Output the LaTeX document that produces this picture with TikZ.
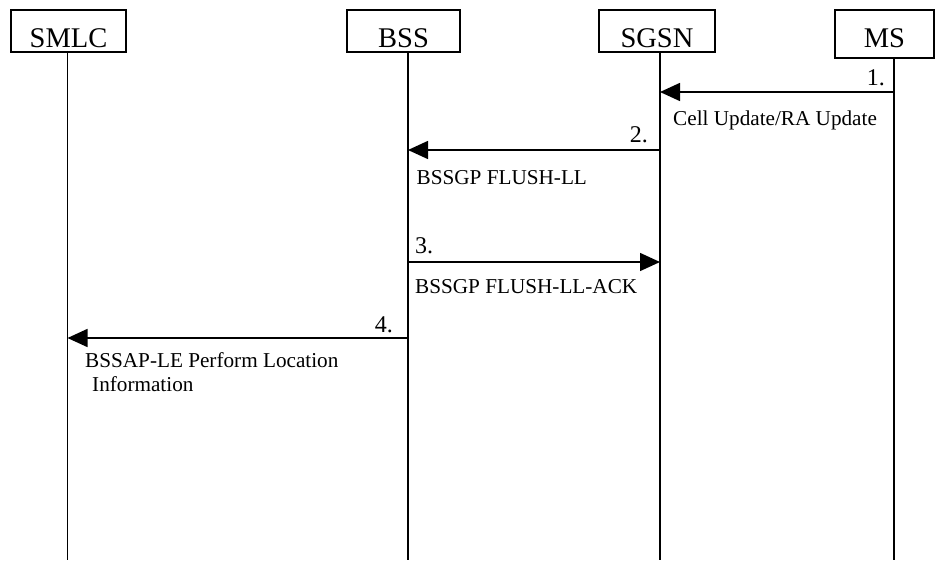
\documentclass[tikz,border=0pt]{standalone}
\usepackage{fontspec}
\setmainfont{Liberation Serif}
\usetikzlibrary{arrows.meta}
\tikzset{
  entity/.style={draw, line width=1.5pt, rectangle, inner sep=0pt, text depth=0pt,
    font=\fontsize{28.5}{32}\selectfont},
  life/.style={line width=1.5pt},
  msg/.style={line width=1.5pt, -{Triangle[length=20pt,width=18pt]}},
  num/.style={inner sep=0pt, font=\fontsize{24}{27}\selectfont},
  lbl/.style={inner sep=0pt, font=\fontsize{21.2}{25}\selectfont, anchor=base west},
}
\begin{document}
\begin{tikzpicture}[x=1pt,y=-1pt]
\useasboundingbox (0,0) rectangle (935,560);
% entity boxes
\node[entity, minimum width=115pt, minimum height=42pt, text height=32pt] (smlc) at (68.5,31) {SMLC};
\node[entity, minimum width=113pt, minimum height=42pt, text height=32pt] (bss) at (403.5,31) {BSS};
\node[entity, minimum width=116pt, minimum height=42pt, text height=32pt] (sgsn) at (657,31) {SGSN};
\node[entity, minimum width=99pt, minimum height=48pt, text height=26pt] (ms) at (884.5,34) {MS};
% lifeline ends
\coordinate (smlcT) at (67.5,52);  \coordinate (smlcB) at (67.5,560);
\coordinate (bssT) at (408,52);    \coordinate (bssB) at (408,560);
\coordinate (sgsnT) at (660,52);   \coordinate (sgsnB) at (660,560);
\coordinate (msT) at (894,58);     \coordinate (msB) at (894,560);
\draw[life] (smlcT) -- (smlcB);
\draw[life] (bssT) -- (bssB);
\draw[life] (sgsnT) -- (sgsnB);
\draw[life] (msT) -- (msB);
% message end points
\coordinate (m1s) at (894,92);  \coordinate (m1e) at (660,92);
\coordinate (m2s) at (660,150); \coordinate (m2e) at (408,150);
\coordinate (m3s) at (408,262); \coordinate (m3e) at (660,262);
\coordinate (m4s) at (408,338); \coordinate (m4e) at (67.5,338);
\draw[msg] (m1s) -- (m1e);
\draw[msg] (m2s) -- (m2e);
\draw[msg] (m3s) -- (m3e);
\draw[msg] (m4s) -- (m4e);
% labels
\node[num, anchor=base east] (n1) at (885,85) {1.};
\node[lbl] (t1) at (673,125) {Cell Update/RA Update};
\node[num, anchor=base east] (n2) at (648,142) {2.};
\node[lbl] (t2) at (416.5,184) {BSSGP FLUSH-LL};
\node[num, anchor=base west] (n3) at (415,253) {3.};
\node[lbl] (t3) at (415,293) {BSSGP FLUSH-LL-ACK};
\node[num, anchor=base east] (n4) at (393,332) {4.};
\node[lbl] (t4a) at (85,367) {BSSAP-LE Perform Location};
\node[lbl] (t4b) at (92,391) {Information};
\end{tikzpicture}
\end{document}
